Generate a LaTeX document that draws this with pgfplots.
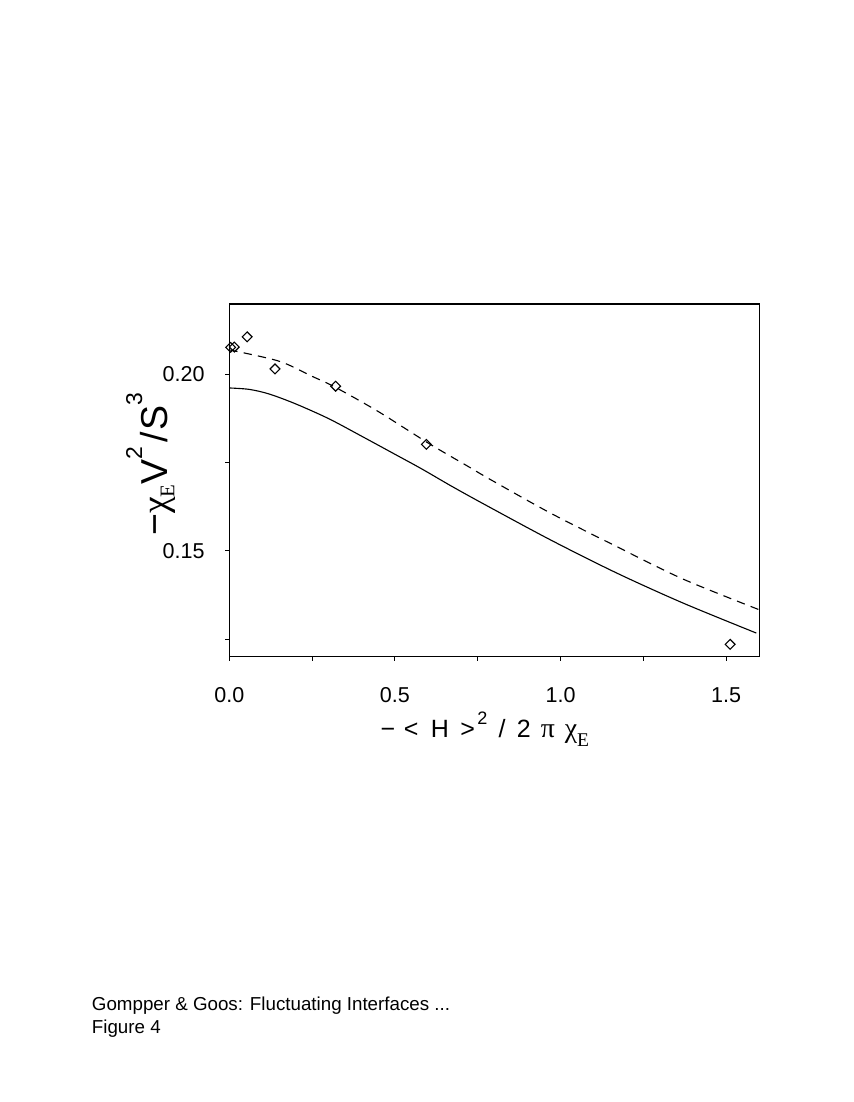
\documentclass[border=0pt]{standalone}
\usepackage{fontspec}
\setmainfont{Liberation Sans}
\newfontfamily\serif{Liberation Serif}
\usepackage{pgfplots}
\pgfplotsset{compat=1.18}
\begin{document}
\begin{tikzpicture}
\path[use as bounding box] (0,0) rectangle (614.16pt,-793.44pt);
\begin{axis}[
  at={(165.1pt,-472.8pt)}, anchor=south west,
  scale only axis, width=381.6pt, height=253.9pt,
  xmin=0, xmax=1.6, ymin=0.12, ymax=0.22,
  axis line style={line width=0.9pt},
  tick align=outside, tick pos=left,
  major tick length=3.1pt,
  every tick/.style={black, line width=0.7pt},
  xtick={0,0.25,0.5,0.75,1.0,1.25,1.5},
  xticklabels={0.0,,0.5,,1.0,,1.5},
  ytick={0.125,0.15,0.175,0.2},
  yticklabels={,0.15,,0.20},
  /pgf/number format/assume math mode=true,
  ticklabel style={font=\fontsize{15.5}{18}\selectfont},
  xticklabel style={anchor=base, inner sep=0pt, yshift=-30pt},
  yticklabel style={anchor=east, inner sep=0pt, xshift=-14.5pt},
  xlabel={−\hspace{0.35em}<\hspace{0.5em}H\hspace{0.45em}>\hspace{0.1em}\raisebox{0.52em}{\fontsize{13}{15}\selectfont 2}\hspace{0.45em}/\hspace{0.45em}2\hspace{0.4em}{\fontsize{20}{22}\serif π}\hspace{0.4em}{\fontsize{20}{22}\serif χ\raisebox{-0.3em}{\fontsize{14}{16}\selectfont E}}},
  xlabel style={at={(axis description cs:0.482,-0.2305)}, anchor=base, inner sep=0pt, font=\fontsize{18}{22}\selectfont},
  ylabel={−{\serif χ\raisebox{-0.18em}{\fontsize{15}{18}\selectfont E}}V\raisebox{0.68em}{\fontsize{16.5}{18}\selectfont 2}\hspace{0.12em}/\hspace{0.03em}S\raisebox{0.68em}{\fontsize{16.5}{18}\selectfont 3}},
  ylabel style={at={(axis description cs:-0.1162,0.546)}, anchor=base, inner sep=0pt, font=\fontsize{27}{32}\selectfont},
  clip=false,
]
\addplot[black, line width=0.8pt, smooth] coordinates {
(0,0.1962) (0.06,0.1958) (0.12,0.1945) (0.20,0.1917) (0.30,0.1875) (0.40,0.1825)
(0.50,0.1774) (0.58,0.1733) (0.67,0.1684) (0.77,0.1632) (0.97,0.1531) (1.17,0.1437)
(1.37,0.1352) (1.591,0.1267)};
\addplot[black, line width=0.8pt, dash pattern=on 6pt off 4.5pt, smooth] coordinates {
(0,0.2070) (0.15,0.2038) (0.25,0.1995) (0.32,0.1964) (0.45,0.1895) (0.60,0.1806)
(0.72,0.1740) (0.787,0.1703) (0.97,0.1607) (1.17,0.1512) (1.37,0.1420) (1.6,0.1333)};
\addplot[only marks, mark=square, mark size=2.5pt, mark options={rotate=45, black, line width=0.8pt, fill=white}] coordinates {
(0.004,0.2077) (0.015,0.2078) (0.054,0.2107) (0.138,0.2016) (0.321,0.1967)
(0.595,0.1802) (1.512,0.1235)};
\end{axis}
\node[anchor=base west, inner sep=0pt, font=\fontsize{13.5}{16}\selectfont] at (66.0pt,-727.2pt) {Gompper \& Goos: Fluctuating Interfaces ...};
\node[anchor=base west, inner sep=0pt, font=\fontsize{13.5}{16}\selectfont] at (66.0pt,-743.8pt) {Figure 4};
\end{tikzpicture}
\end{document}
